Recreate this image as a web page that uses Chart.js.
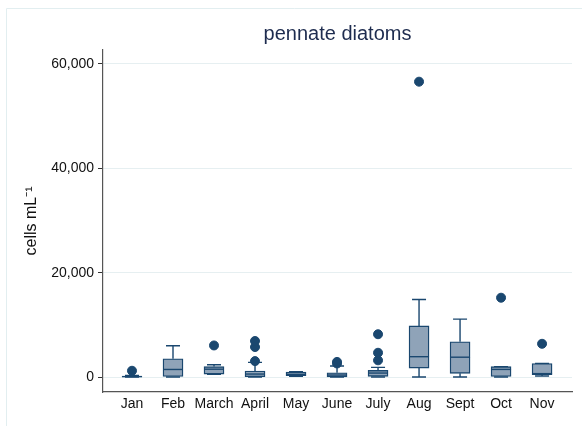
<!DOCTYPE html>
<html>
<head>
<meta charset="utf-8">
<script src="https://cdn.jsdelivr.net/npm/chart.js@4/dist/chart.umd.min.js"></script>
<style>
  html, body { margin: 0; padding: 0; background: #fff; }
</style>
</head>
<body>
<canvas id="chart" width="582" height="426"></canvas>
<script>
// Box plot data (cells mL-1)
const months = ["Jan", "Feb", "March", "April", "May", "June", "July", "Aug", "Sept", "Oct", "Nov"];
const whiskerLow = [0, 0, 500, 0, 150, 0, 0, 0, 0, 0, 200];
const quartile1 = [0, 100, 550, 60, 250, 30, 130, 1720, 700, 0, 450];
const medians = [80, 1450, 1500, 570, 500, 380, 760, 3900, 3800, 1460, 650];
const quartile3 = [150, 3500, 2000, 1150, 950, 820, 1280, 9800, 6750, 2000, 2600];
const whiskerHigh = [300, 6000, 2350, 2800, 1000, 2100, 1850, 14850, 11100, 2000, 2600];
const outliers = [
  [1200],
  [],
  [6050],
  [3050, 5750, 6900],
  [],
  [2600, 2900],
  [3200, 4650, 8200],
  [56600],
  [],
  [15200],
  [6370]
];
const yTicks = [0, 20000, 40000, 60000];

const NAVY = "#1a476f";
const BOX_FILL = "#8fa3b8";
const FONT = "'Liberation Sans', Arial, Helvetica, sans-serif";

// Build datasets
const boxData = months.map((m, i) => ({ x: i, y: [quartile1[i], quartile3[i]] }));
const outlierData = [];
outliers.forEach((list, i) => {
  list.forEach((v) => outlierData.push({ x: i, y: v }));
});

// Whiskers, caps and medians drawn with the chart scales
const boxLines = {
  id: "boxLines",
  beforeDatasetsDraw(chart) {
    const { ctx, scales: { x, y } } = chart;
    ctx.save();
    ctx.strokeStyle = NAVY;
    ctx.lineWidth = 1.4;
    months.forEach((m, i) => {
      const px = x.getPixelForValue(i);
      const capHalf = 7;
      ctx.beginPath();
      ctx.moveTo(px, y.getPixelForValue(quartile3[i]));
      ctx.lineTo(px, y.getPixelForValue(whiskerHigh[i]));
      ctx.moveTo(px, y.getPixelForValue(quartile1[i]));
      ctx.lineTo(px, y.getPixelForValue(whiskerLow[i]));
      ctx.moveTo(px - capHalf, y.getPixelForValue(whiskerHigh[i]));
      ctx.lineTo(px + capHalf, y.getPixelForValue(whiskerHigh[i]));
      ctx.moveTo(px - capHalf, y.getPixelForValue(whiskerLow[i]));
      ctx.lineTo(px + capHalf, y.getPixelForValue(whiskerLow[i]));
      ctx.stroke();
    });
    ctx.restore();
  },
  afterDatasetDraw(chart, args) {
    if (args.index !== 0) return;
    const { ctx, scales: { x, y } } = chart;
    ctx.save();
    ctx.strokeStyle = NAVY;
    ctx.lineWidth = 1.4;
    months.forEach((m, i) => {
      const px = x.getPixelForValue(i);
      const py = y.getPixelForValue(medians[i]);
      ctx.beginPath();
      ctx.moveTo(px - 10, py);
      ctx.lineTo(px + 10, py);
      ctx.stroke();
    });
    ctx.restore();
  }
};

// Faint outer frame of the graph region
const frame = {
  id: "frame",
  beforeDraw(chart) {
    const ctx = chart.ctx;
    ctx.save();
    ctx.strokeStyle = "#e2eef0";
    ctx.lineWidth = 1;
    ctx.beginPath();
    ctx.moveTo(6.5, 426);
    ctx.lineTo(6.5, 8.5);
    ctx.lineTo(582, 8.5);
    ctx.stroke();
    ctx.restore();
  }
};

new Chart(document.getElementById("chart"), {
  type: "bar",
  data: {
    datasets: [
      {
        type: "bar",
        data: boxData,
        backgroundColor: BOX_FILL,
        borderColor: NAVY,
        borderWidth: 1.4,
        borderSkipped: false,
        barThickness: 20,
        order: 2
      },
      {
        type: "scatter",
        data: outlierData,
        backgroundColor: NAVY,
        borderColor: NAVY,
        pointRadius: 4.5,
        pointHoverRadius: 4.5,
        order: 1
      }
    ]
  },
  options: {
    responsive: false,
    animation: false,
    layout: { padding: { left: 0, right: 10, top: 0, bottom: 0 } },
    plugins: {
      legend: { display: false },
      tooltip: { enabled: false },
      title: {
        display: true,
        text: "pennate diatoms",
        fullSize: false,
        color: "#1e2c4f",
        font: { family: FONT, size: 20, weight: "normal" },
        padding: { top: 22, bottom: 4 }
      }
    },
    scales: {
      x: {
        type: "linear",
        offset: false,
        min: -0.707,
        max: 10.73,
        afterBuildTicks: (scale) => {
          scale.ticks = months.map((m, i) => ({ value: i }));
        },
        afterFit: (scale) => { scale.height = 34; },
        ticks: {
          autoSkip: false,
          maxRotation: 0,
          padding: 4,
          color: "#111",
          font: { family: FONT, size: 14 },
          callback: (v) => months[v]
        },
        grid: { display: false, drawTicks: false },
        border: { display: true, color: "#555", width: 1.2 }
      },
      y: {
        min: -2870,
        max: 62670,
        afterBuildTicks: (scale) => {
          scale.ticks = yTicks.map((v) => ({ value: v }));
        },
        afterFit: (scale) => { scale.width = 103; },
        ticks: {
          padding: 4,
          color: "#111",
          font: { family: FONT, size: 14 },
          callback: (v) => v.toLocaleString("en-US")
        },
        grid: {
          color: "#e6eff1",
          tickColor: "#333",
          tickLength: 5,
          lineWidth: 1
        },
        border: { display: true, color: "#555", width: 1.2 },
        title: {
          display: true,
          text: "cells mL⁻¹",
          color: "#111",
          font: { family: FONT, size: 16 },
          padding: { top: 22, bottom: 0 }
        }
      }
    }
  },
  plugins: [frame, boxLines]
});
</script>
</body>
</html>
